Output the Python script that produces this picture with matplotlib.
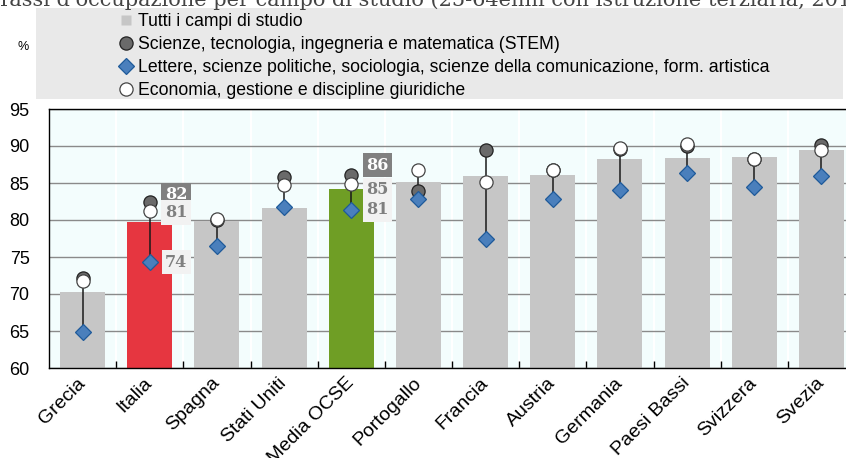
import matplotlib
matplotlib.use("Agg")
import matplotlib.pyplot as plt
import numpy as np
from matplotlib.lines import Line2D
from matplotlib.patches import Rectangle
from matplotlib.transforms import ScaledTranslation

# data
paesi = ["Grecia", "Italia", "Spagna", "Stati Uniti", "Media OCSE", "Portogallo",
         "Francia", "Austria", "Germania", "Paesi Bassi", "Svizzera", "Svezia"]
tutti = [70.3, 79.7, 79.8, 81.6, 84.2, 85.1, 86.0, 86.1, 88.3, 88.4, 88.5, 89.5]
stem = [72.1, 82.5, 80.0, 85.8, 86.1, 83.9, 89.4, 86.7, 89.6, 90.0, 88.3, 90.1]
lettere = [64.8, 74.3, 76.5, 81.7, 81.4, 82.9, 77.5, 82.9, 84.1, 86.4, 84.5, 86.0]
economia = [71.7, 81.2, 80.1, 84.7, 84.9, 86.8, 85.2, 86.8, 89.7, 90.3, 88.3, 89.4]

legenda = ["Tutti i campi di studio",
           "Scienze, tecnologia, ingegneria e matematica (STEM)",
           "Lettere, scienze politiche, sociologia, scienze della comunicazione, form. artistica",
           "Economia, gestione e discipline giuridiche"]
titolo = "Tassi d'occupazione per campo di studio (25-64enni con istruzione terziaria, 2019)"

GRIGIO = "#c6c6c6"
ROSSO = "#e63640"
VERDE = "#6f9e25"
BLU = "#4a7fbc"

plt.rcParams["font.family"] = ["Liberation Sans", "DejaVu Sans"]

fig = plt.figure(figsize=(8.46, 4.58), dpi=100)
# the plot runs a little past the right edge, as in the original crop
ax = fig.add_axes([49 / 846, 1 - 368 / 458, 806 / 846, 259 / 458])
ax.set_facecolor("#f3fdfd")

x = np.arange(len(paesi))
colori = [GRIGIO] * len(paesi)
colori[paesi.index("Italia")] = ROSSO
colori[paesi.index("Media OCSE")] = VERDE

ax.bar(x, tutti, width=0.67, color=colori, zorder=2)

lo = np.minimum.reduce([stem, lettere, economia])
hi = np.maximum.reduce([stem, lettere, economia])
ax.vlines(x, lo, hi, color="#1a1a1a", lw=1.1, zorder=3)
ax.plot(x, stem, "o", ms=9.5, mfc="#6a6a6a", mec="#222222", mew=0.9, ls="none", zorder=4)
ax.plot(x, lettere, "D", ms=8, mfc=BLU, mec="#1e5a9a", mew=0.9, ls="none", zorder=5)
ax.plot(x, economia, "o", ms=9.5, mfc="white", mec="#444444", mew=0.9, ls="none", zorder=6)

# etichette per Italia e Media OCSE
def etichetta(i, val, dy, scuro):
    if scuro:
        box = dict(boxstyle="square,pad=0.22", fc="#808080", ec="none")
        col = "white"
    else:
        box = dict(boxstyle="square,pad=0.22", fc="#f2f2f2", ec="none")
        col = "#7f7f7f"
    ax.annotate(f"{val:.0f}", (i, val), xytext=(19, dy), textcoords="offset points",
                ha="center", va="center", fontsize=11.5, fontweight="bold",
                family="DejaVu Serif", color=col, bbox=box, zorder=7)

i_it = paesi.index("Italia")
etichetta(i_it, stem[i_it], 5, True)
etichetta(i_it, economia[i_it], -1, False)
etichetta(i_it, lettere[i_it], 0, False)
i_oc = paesi.index("Media OCSE")
etichetta(i_oc, stem[i_oc], 7, True)
etichetta(i_oc, economia[i_oc], -4.5, False)
etichetta(i_oc, lettere[i_oc], 0, False)

ax.set_xlim(-0.5, len(paesi) - 0.5)
ax.set_ylim(60, 95)
ax.set_yticks(np.arange(60, 96, 5))
ax.yaxis.grid(True, color="#8a8a8a", lw=1, zorder=0)
ax.set_axisbelow(True)
ax.set_xticks(x)
ax.set_xticklabels(paesi, rotation=45, ha="right", va="center", rotation_mode="anchor")
spost = ScaledTranslation(6 / 100, -4 / 100, fig.dpi_scale_trans)
for lab in ax.get_xticklabels():
    lab.set_transform(lab.get_transform() + spost)
ax.set_xticks(x[:-1] + 0.5, minor=True)
ax.xaxis.grid(True, which="minor", color="white", lw=1.5, zorder=0)
ax.tick_params(axis="x", which="major", length=0, pad=9, labelsize=14)
ax.tick_params(axis="x", which="minor", direction="in", length=5, width=1, color="black")
ax.tick_params(axis="y", length=0, pad=14, labelsize=13)
for s in ax.spines.values():
    s.set_color("black")
    s.set_linewidth(1)

# legenda in alto su banda grigia
fig.add_artist(Rectangle((36 / 846, 1 - 99 / 458), 807 / 846, 91 / 458,
                         transform=fig.transFigure, fc="#e9e9e9", ec="none", zorder=0))
fig.text(23 / 846, 1 - 47 / 458, "%", fontsize=9, ha="center", va="center")
maniglie = [
    Line2D([], [], marker="s", ms=7, mfc=GRIGIO, mec="none", ls="none"),
    Line2D([], [], marker="o", ms=9.5, mfc="#6a6a6a", mec="#222222", mew=0.9, ls="none"),
    Line2D([], [], marker="D", ms=8, mfc=BLU, mec="#1e5a9a", mew=0.9, ls="none"),
    Line2D([], [], marker="o", ms=9.5, mfc="white", mec="#444444", mew=0.9, ls="none"),
]
fig.legend(maniglie, legenda, loc="upper left", bbox_to_anchor=(117 / 846, 1 - 11 / 458),
           frameon=False, fontsize=12.7, handlelength=0.8, handletextpad=0.3,
           labelspacing=0.35, borderaxespad=0, borderpad=0.1)

fig.text(-0.004, 1 - 6 / 458, titolo, fontsize=15, family="DejaVu Serif",
         color="#444444", ha="left", va="baseline")

fig.savefig("out.png", dpi=100)
